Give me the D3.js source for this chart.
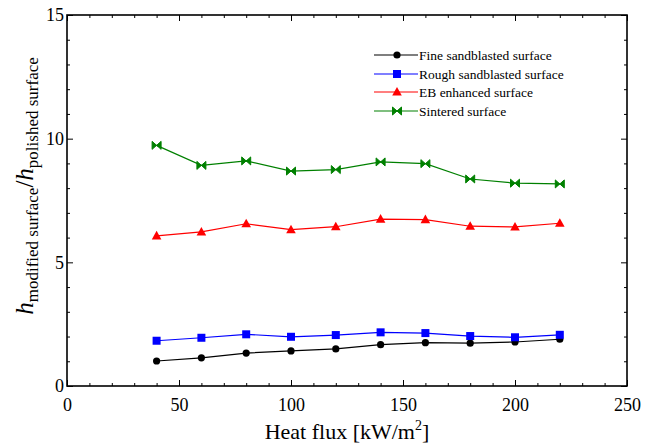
<!DOCTYPE html>
<html>
<head>
<meta charset="utf-8">
<script src="https://cdn.jsdelivr.net/npm/d3@7"></script>
<style>
  body { margin: 0; background: #fff; }
  svg { display: block; }
  svg text { font-family: "Liberation Serif", "Times New Roman", serif; }
</style>
</head>
<body>
<svg id="chart" width="655" height="446"></svg>
<script>
const heatFlux = [40, 60, 80, 100, 120, 140, 160, 180, 200, 220];
const fineSandblasted = [1.01, 1.14, 1.33, 1.42, 1.50, 1.67, 1.75, 1.73, 1.78, 1.89];
const roughSandblasted = [1.83, 1.95, 2.09, 1.99, 2.06, 2.17, 2.14, 2.02, 1.97, 2.07];
const ebEnhanced = [6.07, 6.23, 6.56, 6.32, 6.44, 6.75, 6.73, 6.46, 6.43, 6.58];
const sintered = [9.73, 8.92, 9.10, 8.69, 8.75, 9.06, 8.99, 8.37, 8.20, 8.17];
const xTicks = [0, 50, 100, 150, 200, 250];
const yTicks = [0, 5, 10, 15];

const series = [
  { name: "Fine sandblasted surface", values: fineSandblasted, color: "#000000", marker: "circle" },
  { name: "Rough sandblasted surface", values: roughSandblasted, color: "#0000ff", marker: "square" },
  { name: "EB enhanced surface", values: ebEnhanced, color: "#ff0000", marker: "triangle" },
  { name: "Sintered surface", values: sintered, color: "#008000", marker: "bowtie" },
];

const margin = { left: 67, top: 15, right: 28, bottom: 60 };
const width = 655, height = 446;
const svg = d3.select("#chart");

const x = d3.scaleLinear().domain([0, 250]).range([margin.left, width - margin.right]);
const y = d3.scaleLinear().domain([0, 15]).range([height - margin.bottom, margin.top]);

// axes with inward ticks
const minorX = d3.range(0, 251, 10).filter(v => v % 50 !== 0);
const minorY = d3.range(0, 16, 1).filter(v => v % 5 !== 0);

function addAxis(axis, transform) {
  const g = svg.append("g").attr("transform", transform).call(axis);
  g.attr("font-family", null);
  g.select(".domain").remove();
  g.selectAll("line").attr("stroke", "#000").attr("stroke-width", 1);
  return g;
}

const bottom = addAxis(d3.axisBottom(x).tickValues(xTicks).tickSize(-6).tickPadding(12).tickFormat(d3.format("d")), `translate(0,${y(0)})`);
bottom.selectAll("text").attr("font-size", 18).attr("fill", "#000");
addAxis(d3.axisBottom(x).tickValues(minorX).tickSize(-3).tickFormat(""), `translate(0,${y(0)})`);
addAxis(d3.axisTop(x).tickValues(xTicks).tickSize(-6).tickFormat(""), `translate(0,${y(15)})`);
addAxis(d3.axisTop(x).tickValues(minorX).tickSize(-3).tickFormat(""), `translate(0,${y(15)})`);

const left = addAxis(d3.axisLeft(y).tickValues(yTicks).tickSize(-6).tickPadding(3).tickFormat(d3.format("d")), `translate(${x(0)},0)`);
left.selectAll("text").attr("font-size", 18).attr("fill", "#000");
addAxis(d3.axisLeft(y).tickValues(minorY).tickSize(-3).tickFormat(""), `translate(${x(0)},0)`);
addAxis(d3.axisRight(y).tickValues(yTicks).tickSize(-6).tickFormat(""), `translate(${x(250)},0)`);
addAxis(d3.axisRight(y).tickValues(minorY).tickSize(-3).tickFormat(""), `translate(${x(250)},0)`);

svg.append("rect")
  .attr("x", x(0)).attr("y", y(15))
  .attr("width", x(250) - x(0)).attr("height", y(0) - y(15))
  .attr("fill", "none").attr("stroke", "#000").attr("stroke-width", 1.6);

// markers
function drawMarker(g, type, color) {
  if (type === "circle") {
    g.append("circle").attr("r", 3.6).attr("fill", color);
  } else if (type === "square") {
    g.append("rect").attr("x", -4).attr("y", -4).attr("width", 8).attr("height", 8).attr("fill", color);
  } else if (type === "triangle") {
    g.append("path").attr("d", "M0,-5 L4.8,3.6 L-4.8,3.6 Z").attr("fill", color);
  } else {
    g.append("path").attr("d", "M-4.5,-4 L4.5,4 L4.5,-4 L-4.5,4 Z").attr("fill", color)
      .attr("stroke", color).attr("stroke-width", 1);
  }
}

const line = d3.line().x((d, i) => x(heatFlux[i])).y(d => y(d));

for (const s of series) {
  svg.append("path")
    .datum(s.values)
    .attr("d", line)
    .attr("fill", "none")
    .attr("stroke", s.color)
    .attr("stroke-width", 1.2);
  s.values.forEach((v, i) => {
    const g = svg.append("g").attr("transform", `translate(${x(heatFlux[i])},${y(v)})`);
    drawMarker(g, s.marker, s.color);
  });
}

// legend
const legendRows = [55, 74, 92, 111];
series.forEach((s, i) => {
  const ly = legendRows[i];
  svg.append("line").attr("x1", 374).attr("x2", 418).attr("y1", ly).attr("y2", ly)
    .attr("stroke", s.color).attr("stroke-width", 1.2);
  drawMarker(svg.append("g").attr("transform", `translate(397,${ly})`), s.marker, s.color);
  svg.append("text").attr("x", 419).attr("y", ly + 4.5)
    .attr("font-size", 13.5).attr("fill", "#000").text(s.name);
});

// axis titles
const xTitle = svg.append("text")
  .attr("x", (x(0) + x(250)) / 2).attr("y", 439)
  .attr("text-anchor", "middle").attr("font-size", 22).attr("fill", "#000");
xTitle.append("tspan").text("Heat flux [kW/m");
xTitle.append("tspan").attr("font-size", 14).attr("dy", -9).text("2");
xTitle.append("tspan").attr("dy", 9).text("]");

const yTitle = svg.append("text")
  .attr("transform", `translate(33,186) rotate(-90)`)
  .attr("text-anchor", "middle").attr("font-size", 25).attr("fill", "#000");
yTitle.append("tspan").attr("font-style", "italic").text("h");
yTitle.append("tspan").attr("font-size", 17).attr("dy", 5).text("modified surface");
yTitle.append("tspan").attr("dy", -5).text("/");
yTitle.append("tspan").attr("font-style", "italic").text("h");
yTitle.append("tspan").attr("font-size", 17).attr("dy", 5).text("polished surface");
</script>
</body>
</html>
